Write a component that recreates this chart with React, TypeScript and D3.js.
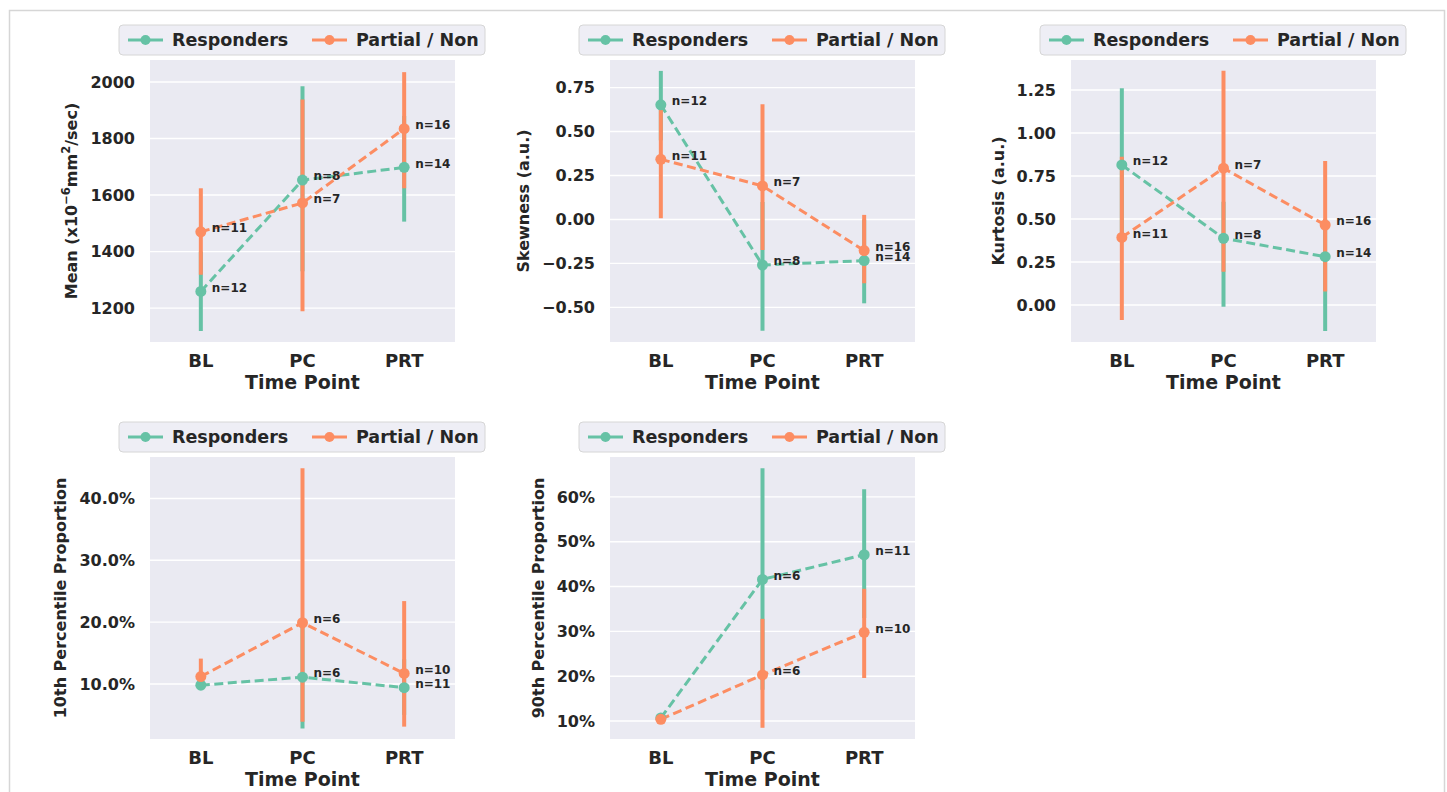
import React, { useEffect, useRef } from "react";
import * as d3 from "d3";

const timePoints = ["BL", "PC", "PRT"];
const groupNames = ["Responders", "Partial / Non"];
const groupColors = ["#66c2a5", "#fc8d62"];

// Mean ADC (x10^-6 mm^2/sec)
const meanResp = [1259, 1653, 1698];
const meanRespLow = [1119, 1330, 1506];
const meanRespHigh = [1400, 1985, 1880];
const meanPart = [1470, 1572, 1835];
const meanPartLow = [1318, 1189, 1624];
const meanPartHigh = [1624, 1938, 2035];
const meanTicks = [1200, 1400, 1600, 1800, 2000];
const meanDomain = [1080, 2078];

// Skewness
const skewResp = [0.652, -0.259, -0.234];
const skewRespLow = [0.45, -0.633, -0.477];
const skewRespHigh = [0.845, 0.1, 0.0];
const skewPart = [0.342, 0.191, -0.177];
const skewPartLow = [0.007, -0.174, -0.363];
const skewPartHigh = [0.661, 0.655, 0.026];
const skewTicks = [-0.5, -0.25, 0, 0.25, 0.5, 0.75];
const skewDomain = [-0.697, 0.907];

// Kurtosis
const kurtResp = [0.814, 0.388, 0.281];
const kurtRespLow = [0.38, -0.01, -0.151];
const kurtRespHigh = [1.26, 0.6, 0.5];
const kurtPart = [0.393, 0.795, 0.465];
const kurtPartLow = [-0.087, 0.194, 0.078];
const kurtPartHigh = [0.862, 1.362, 0.837];
const kurtTicks = [0, 0.25, 0.5, 0.75, 1.0, 1.25];
const kurtDomain = [-0.215, 1.424];

// 10th percentile proportion
const p10Resp = [0.098, 0.111, 0.094];
const p10RespLow = [0.094, 0.028, 0.05];
const p10RespHigh = [0.104, 0.2, 0.14];
const p10Part = [0.112, 0.199, 0.117];
const p10PartLow = [0.1, 0.039, 0.031];
const p10PartHigh = [0.141, 0.449, 0.234];
const p10Ticks = [0.1, 0.2, 0.3, 0.4];
const p10Domain = [0.011, 0.467];

// 90th percentile proportion
const p90Resp = [0.107, 0.416, 0.471];
const p90RespLow = [0.1, 0.17, 0.33];
const p90RespHigh = [0.112, 0.664, 0.617];
const p90Part = [0.104, 0.203, 0.298];
const p90PartLow = [0.098, 0.085, 0.196];
const p90PartHigh = [0.11, 0.328, 0.395];
const p90Ticks = [0.1, 0.2, 0.3, 0.4, 0.5, 0.6];
const p90Domain = [0.06, 0.689];

// sample sizes
const nRespMain = [12, 8, 14];
const nPartMain = [11, 7, 16];
const nRespPct = [null, 6, 11];
const nPartPct = [null, 6, 10];

const FONT = "'DejaVu Sans', sans-serif";
const TXT = "#262626";

type Series = { mean: number[]; low: number[]; high: number[]; n: (number | null)[] };
type Panel = {
  col: number;
  row: number;
  label: string;
  domain: number[];
  ticks: number[];
  fmt: (v: number) => string;
  series: Series[];
};

const panels: Panel[] = [
  {
    col: 0, row: 0, label: "MEAN", domain: meanDomain, ticks: meanTicks, fmt: d3.format("d"),
    series: [
      { mean: meanResp, low: meanRespLow, high: meanRespHigh, n: nRespMain },
      { mean: meanPart, low: meanPartLow, high: meanPartHigh, n: nPartMain },
    ],
  },
  {
    col: 1, row: 0, label: "Skewness (a.u.)", domain: skewDomain, ticks: skewTicks, fmt: d3.format(".2f"),
    series: [
      { mean: skewResp, low: skewRespLow, high: skewRespHigh, n: nRespMain },
      { mean: skewPart, low: skewPartLow, high: skewPartHigh, n: nPartMain },
    ],
  },
  {
    col: 2, row: 0, label: "Kurtosis (a.u.)", domain: kurtDomain, ticks: kurtTicks, fmt: d3.format(".2f"),
    series: [
      { mean: kurtResp, low: kurtRespLow, high: kurtRespHigh, n: nRespMain },
      { mean: kurtPart, low: kurtPartLow, high: kurtPartHigh, n: nPartMain },
    ],
  },
  {
    col: 0, row: 1, label: "10th Percentile Proportion", domain: p10Domain, ticks: p10Ticks, fmt: d3.format(".1%"),
    series: [
      { mean: p10Resp, low: p10RespLow, high: p10RespHigh, n: nRespPct },
      { mean: p10Part, low: p10PartLow, high: p10PartHigh, n: nPartPct },
    ],
  },
  {
    col: 1, row: 1, label: "90th Percentile Proportion", domain: p90Domain, ticks: p90Ticks, fmt: d3.format(".0%"),
    series: [
      { mean: p90Resp, low: p90RespLow, high: p90RespHigh, n: nRespPct },
      { mean: p90Part, low: p90PartLow, high: p90PartHigh, n: nPartPct },
    ],
  },
];

const colLefts = [150, 610, 1071];
const rowTops = [60, 457];
const PW = 305;
const PH = 282;

export default function App() {
  const ref = useRef<SVGSVGElement | null>(null);

  useEffect(() => {
    const svg = d3.select(ref.current);
    svg.selectAll("*").remove();

    svg.append("rect")
      .attr("x", 9.5).attr("y", 10.5).attr("width", 1435).attr("height", 820)
      .attr("fill", "none").attr("stroke", "#d6d6d6").attr("stroke-width", 1.5);

    panels.forEach((p) => {
      const left = colLefts[p.col];
      const top = rowTops[p.row];
      const g = svg.append("g");
      const x = d3.scalePoint<string>().domain(timePoints).range([left, left + PW]).padding(0.5);
      const y = d3.scaleLinear().domain(p.domain).range([top + PH, top]);

      g.append("rect").attr("x", left).attr("y", top).attr("width", PW).attr("height", PH).attr("fill", "#eaeaf2");
      g.selectAll(".grid").data(p.ticks).enter().append("line")
        .attr("x1", left).attr("x2", left + PW)
        .attr("y1", (d) => y(d)).attr("y2", (d) => y(d))
        .attr("stroke", "#ffffff").attr("stroke-width", 1.4);

      const tickTexts = g.selectAll(".yt").data(p.ticks).enter().append("text")
        .attr("x", left - 15).attr("y", (d) => y(d)).attr("dy", "0.36em")
        .attr("text-anchor", "end").attr("font-family", FONT).attr("font-weight", "bold")
        .attr("font-size", 16).attr("fill", TXT)
        .text((d) => p.fmt(d).replace("-", "\u2212"));

      let minX = left - 15;
      tickTexts.each(function () {
        const bb = (this as SVGTextElement).getBBox();
        if (bb.x < minX) minX = bb.x;
      });

      g.selectAll(".xt").data(timePoints).enter().append("text")
        .attr("x", (d) => x(d)!).attr("y", top + PH + 25)
        .attr("text-anchor", "middle").attr("font-family", FONT).attr("font-weight", "bold")
        .attr("font-size", 18).attr("fill", TXT).text((d) => d);

      g.append("text")
        .attr("x", left + PW / 2).attr("y", top + PH + 47)
        .attr("text-anchor", "middle").attr("font-family", FONT).attr("font-weight", "bold")
        .attr("font-size", 19).attr("fill", TXT).text("Time Point");

      const lx = minX - 13;
      const ly = top + PH / 2;
      const yl = g.append("text")
        .attr("transform", `translate(${lx},${ly}) rotate(-90)`)
        .attr("text-anchor", "middle").attr("font-family", FONT).attr("font-weight", "bold")
        .attr("font-size", 16).attr("fill", TXT);
      if (p.label === "MEAN") {
        yl.append("tspan").text("Mean (x10");
        yl.append("tspan").attr("dy", -7).attr("font-size", 11.5).text("\u22126");
        yl.append("tspan").attr("dy", 7).text("mm");
        yl.append("tspan").attr("dy", -7).attr("font-size", 11.5).text("2");
        yl.append("tspan").attr("dy", 7).text("/sec)");
      } else {
        yl.text(p.label);
      }

      const line = d3.line<number>().x((_, i) => x(timePoints[i])!).y((d) => y(d));
      p.series.forEach((s, si) => {
        g.append("path").attr("d", line(s.mean))
          .attr("fill", "none").attr("stroke", groupColors[si]).attr("stroke-width", 3)
          .attr("stroke-dasharray", "9,4.5");
        g.selectAll(`.ci${si}`).data(timePoints).enter().append("line")
          .attr("x1", (d) => x(d)!).attr("x2", (d) => x(d)!)
          .attr("y1", (_, i) => y(s.low[i])).attr("y2", (_, i) => y(s.high[i]))
          .attr("stroke", groupColors[si]).attr("stroke-width", 4);
      });
      p.series.forEach((s, si) => {
        g.selectAll(`.pt${si}`).data(timePoints).enter().append("circle")
          .attr("cx", (d) => x(d)!).attr("cy", (_, i) => y(s.mean[i])).attr("r", 5.5)
          .attr("fill", groupColors[si]);
      });
      p.series.forEach((s) => {
        timePoints.forEach((tp, i) => {
          const n = s.n[i];
          if (n == null) return;
          g.append("text")
            .attr("x", x(tp)! + 11).attr("y", y(s.mean[i]) - 4).attr("dy", "0.36em")
            .attr("font-family", FONT).attr("font-weight", "bold").attr("font-size", 12)
            .attr("fill", TXT).text(`n=${n}`);
        });
      });

      // legend
      const bx = left - 31;
      const by = top - 35;
      const lg = g.append("g");
      lg.append("rect").attr("x", bx).attr("y", by).attr("width", 366).attr("height", 30).attr("rx", 4)
        .attr("fill", "#eeeef5").attr("stroke", "#d6d6d6").attr("stroke-width", 1);
      const entryOffsets = [9, 193];
      groupNames.forEach((name, gi) => {
        const ex = bx + entryOffsets[gi];
        const cy = by + 15;
        lg.append("line").attr("x1", ex).attr("x2", ex + 35).attr("y1", cy).attr("y2", cy)
          .attr("stroke", groupColors[gi]).attr("stroke-width", 3);
        lg.append("circle").attr("cx", ex + 17.5).attr("cy", cy).attr("r", 5).attr("fill", groupColors[gi]);
        lg.append("text").attr("x", ex + 44).attr("y", cy).attr("dy", "0.36em")
          .attr("font-family", FONT).attr("font-weight", "bold").attr("font-size", 17.5)
          .attr("fill", TXT).text(name);
      });
    });
  }, []);

  return (
    <svg
      ref={ref}
      width={1447}
      height={792}
      style={{ position: "absolute", left: 0, top: 0, background: "#ffffff" }}
    />
  );
}
